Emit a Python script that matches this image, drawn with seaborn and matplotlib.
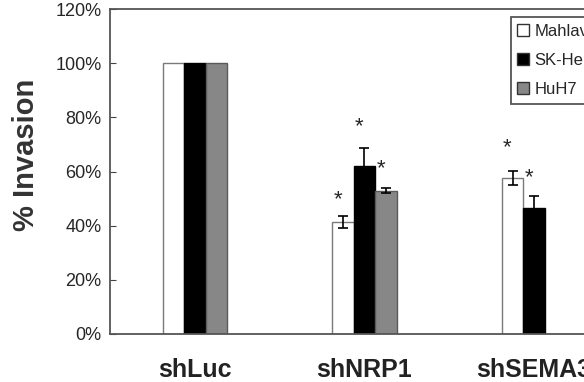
import pandas as pd
import numpy as np
import matplotlib
matplotlib.use('Agg')
import matplotlib.pyplot as plt
import matplotlib.transforms as mtransforms
import seaborn as sns
from matplotlib.patches import Patch

sns.set_style('white')
plt.rcParams['font.family'] = ['Liberation Sans', 'DejaVu Sans']

# data (percent invasion)
groups = ['shLuc', 'shNRP1', 'shSEMA3']
cell_lines = ['Mahlavu', 'SK-Hep1', 'HuH7']
mahlavu = [100, 41.2, 57.7]
skhep1 = [100, 62.2, 46.4]
huh7 = [100, 52.9, None]
err_mahlavu = [None, 2.2, 2.6]
err_skhep1 = [None, 6.4, 4.7]
err_huh7 = [None, 1.0, None]
# significance star heights
star_mahlavu = [None, 49.5, 68.7]
star_skhep1 = [None, 76.4, 57.6]
star_huh7 = [None, 61.0, None]

yticks = [0, 20, 40, 60, 80, 100, 120]
ytick_labels = ['0%', '20%', '40%', '60%', '80%', '100%', '120%']

rows = []
for line, vals, errs, stars in zip(cell_lines,
                                   [mahlavu, skhep1, huh7],
                                   [err_mahlavu, err_skhep1, err_huh7],
                                   [star_mahlavu, star_skhep1, star_huh7]):
    for g, v, e, s in zip(groups, vals, errs, stars):
        if v is None:
            continue
        rows.append({'group': g, 'line': line, 'value': v, 'err': e, 'star': s})
df = pd.DataFrame(rows)

palette = {'Mahlavu': '#ffffff', 'SK-Hep1': '#000000', 'HuH7': '#878787'}
edges = {'Mahlavu': '#7a7a7a', 'SK-Hep1': '#000000', 'HuH7': '#5a5a5a'}

fig = plt.figure(figsize=(5.84, 3.82), dpi=100)
ax = fig.add_axes([110 / 584, 48 / 382, 480 / 584, 325 / 382])

sns.barplot(data=df, x='group', y='value', hue='line', order=groups,
            hue_order=cell_lines, palette=palette, width=0.38,
            errorbar=None, legend=False, ax=ax)

for line, cont in zip(cell_lines, ax.containers):
    sub = df[df['line'] == line].copy()
    sub['pos'] = sub['group'].map(groups.index)
    sub = sub.sort_values('pos')
    sub['x'] = [p.get_x() + p.get_width() / 2 for p in cont.patches]
    for p in cont.patches:
        p.set_edgecolor(edges[line])
        p.set_linewidth(1.0)
    eb = sub[sub['err'].notna()]
    ax.errorbar(eb['x'], eb['value'], yerr=eb['err'].astype(float), fmt='none',
                ecolor='black', elinewidth=1.2, capsize=3.5, capthick=1.2)
    for x, s in zip(sub['x'], sub['star']):
        if pd.notna(s):
            ax.text(x - 0.03, s, '*', ha='center', va='center', fontsize=16)

ax.set_xlim(-0.5, 2.33)
ax.set_ylim(0, 120)
ax.set_yticks(yticks)
ax.set_yticklabels(ytick_labels, fontsize=13)
ax.set_xticks(range(len(groups)))
ax.set_xticklabels(groups, fontsize=18, fontweight='bold', color='#222222')
shift = mtransforms.ScaledTranslation(5 / 100, 0, fig.dpi_scale_trans)
for lbl in ax.get_xticklabels():
    lbl.set_transform(lbl.get_transform() + shift)
ax.set_xticks([0.5, 1.5], minor=True)
ax.tick_params(axis='x', which='major', length=0, pad=17)
ax.tick_params(axis='x', which='minor', direction='in', length=4, color='#444444')
ax.tick_params(axis='y', direction='in', length=4, left=True, color='#444444', pad=6)
ax.set_xlabel('')
ax.set_ylabel('% Invasion', fontsize=21, fontweight='bold', color='#333333')
ax.yaxis.set_label_coords(-0.145, 0.55)

for sp in ax.spines.values():
    sp.set_color('#555555')
    sp.set_linewidth(1.3)
ax.spines['right'].set_visible(False)

handles = [Patch(facecolor=palette[l], edgecolor='#333333', label=l) for l in cell_lines]
leg = ax.legend(handles=handles, loc='upper left', bbox_to_anchor=(0.835, 0.975),
                borderaxespad=0, fontsize=12, handlelength=0.7, handleheight=0.7,
                handletextpad=0.3, labelspacing=0.85, fancybox=False, framealpha=1)
leg.get_frame().set_edgecolor('#555555')
leg.get_frame().set_linewidth(1.3)

fig.savefig('out.png', dpi=100, facecolor='white')
